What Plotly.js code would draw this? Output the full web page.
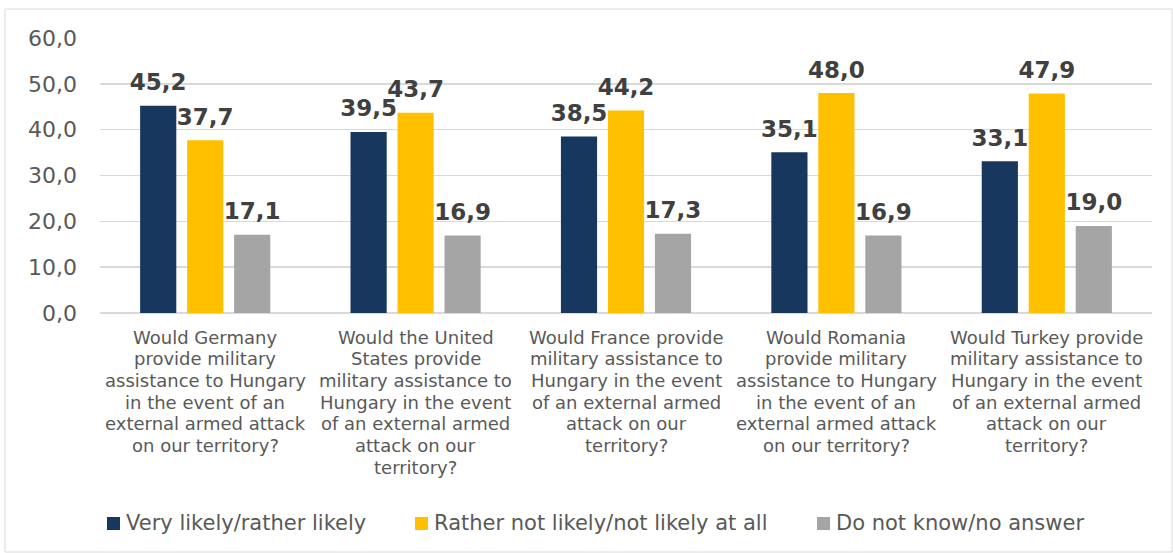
<!DOCTYPE html>
<html><head><meta charset="utf-8">
<script src="https://cdn.plot.ly/plotly-3.0.1.min.js"></script>
<style>html,body{margin:0;padding:0;background:#fff}#c{width:1173px;height:553px}</style>
</head><body><div id="c"></div>
<script>
const categories = [
  "Would Germany<br>provide military<br>assistance to Hungary<br>in the event of an<br>external armed attack<br>on our territory?",
  "Would the United<br>States provide<br>military assistance to<br>Hungary in the event<br>of an external armed<br>attack on our<br>territory?",
  "Would France provide<br>military assistance to<br>Hungary in the event<br>of an external armed<br>attack on our<br>territory?",
  "Would Romania<br>provide military<br>assistance to Hungary<br>in the event of an<br>external armed attack<br>on our territory?",
  "Would Turkey provide<br>military assistance to<br>Hungary in the event<br>of an external armed<br>attack on our<br>territory?"
];
const seriesNames = ["Very likely/rather likely", "Rather not likely/not likely at all", "Do not know/no answer"];
const likely = [45.2, 39.5, 38.5, 35.1, 33.1];
const notLikely = [37.7, 43.7, 44.2, 48.0, 47.9];
const dontKnow = [17.1, 16.9, 17.3, 16.9, 19.0];
const colors = ["#17375e", "#ffc000", "#a5a5a5"];

const fmt = v => v.toFixed(1).replace('.', ',');
const allSeries = [likely, notLikely, dontKnow];
const bars = allSeries.map((vals, i) => ({
  type: 'bar', x: categories, y: vals, name: seriesNames[i],
  marker: {color: colors[i]}, hoverinfo: 'none', offsetgroup: String(i)
}));
const labels = allSeries.map((vals, i) => ({
  type: 'scatter', mode: 'markers+text', x: categories, y: vals, showlegend: false,
  offsetgroup: String(i),
  marker: {size: 14, opacity: 0, color: colors[i]},
  text: vals.map(fmt), textposition: 'top center', cliponaxis: false,
  textfont: {family: 'DejaVu Sans', size: 23, color: '#404040', weight: 'bold'},
  hoverinfo: 'none'
}));

const L = 100, R = 21, T = 38, B = 240, W = 1173, H = 553;
const pw = W - L - R, ph = H - T - B;
const px = x => (x - L) / pw, py = y => (H - B - y) / ph;

const annotations = [];
categories.forEach(c => {
  c.split('<br>').forEach((line, j) => {
    annotations.push({xref: 'x', yref: 'paper', x: c, y: py(337 + j * 21.7), yanchor: 'middle',
      xanchor: 'center', text: line, showarrow: false,
      font: {family: 'DejaVu Sans', size: 18, color: '#595959'}});
  });
});

// legend (manual)
const legendX = [107, 415, 817];
const shapes = [{type: 'rect', xref: 'paper', yref: 'paper', x0: px(5), x1: px(1172), y0: py(552), y1: py(9),
  line: {color: '#d9d9d9', width: 1}, layer: 'below'}];
seriesNames.forEach((n, i) => {
  shapes.push({type: 'rect', xref: 'paper', yref: 'paper', x0: px(legendX[i]), x1: px(legendX[i] + 13),
    y0: py(530), y1: py(517), fillcolor: colors[i], line: {width: 0}});
  annotations.push({xref: 'paper', yref: 'paper', x: px(legendX[i] + 17), y: py(523), xanchor: 'left',
    yanchor: 'middle', text: n, showarrow: false,
    font: {family: 'DejaVu Sans', size: 21, color: '#595959'}});
});

const layout = {
  width: W, height: H,
  margin: {l: L, r: R, t: T, b: B, pad: 0},
  paper_bgcolor: '#fff', plot_bgcolor: '#fff',
  separators: ', ',
  barmode: 'group', bargap: 0.33, bargroupgap: 0.23,
  scattermode: 'group', scattergap: 0.33,
  font: {family: 'DejaVu Sans', color: '#595959'},
  showlegend: false,
  xaxis: {showticklabels: false, showline: false, ticks: '', automargin: false},
  yaxis: {range: [0, 60], dtick: 10, tickformat: '.1f', gridcolor: '#d9d9d9', gridwidth: 1.5,
    zeroline: true, zerolinecolor: '#d9d9d9', zerolinewidth: 1.5,
    tickfont: {family: 'DejaVu Sans', size: 22, color: '#595959'}, ticklen: 0, ticks: '', automargin: false,
    ticklabelstandoff: 22},
  annotations: annotations,
  shapes: shapes
};
Plotly.newPlot('c', bars.concat(labels), layout, {displayModeBar: false, staticPlot: true});
</script></body></html>
